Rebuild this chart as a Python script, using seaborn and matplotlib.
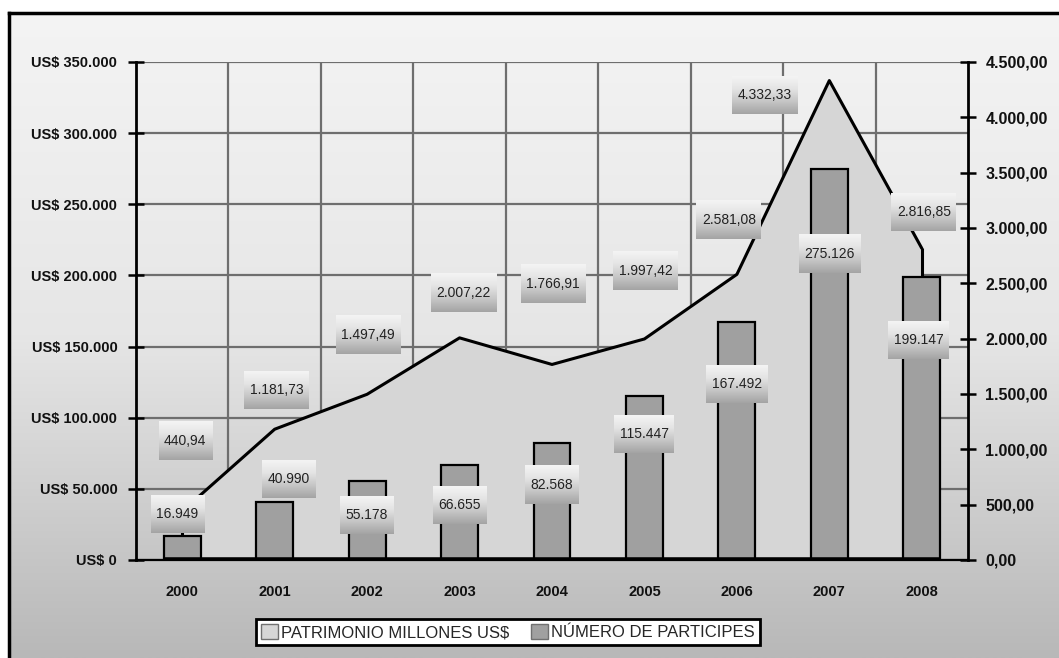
import numpy as np
import matplotlib
matplotlib.use('Agg')
import matplotlib.pyplot as plt
import seaborn as sns
from matplotlib.colors import LinearSegmentedColormap
from matplotlib.patches import Patch

years = ['2000', '2001', '2002', '2003', '2004', '2005', '2006', '2007', '2008']
patrimonio = [440.94, 1181.73, 1497.49, 2007.22, 1766.91, 1997.42, 2581.08, 4332.33, 2816.85]
participes = [16949, 40990, 55178, 66655, 82568, 115447, 167492, 275126, 199147]

left_max = 350000
right_max = 4500


def fmt_es(v, dec):
    s = f"{v:,.{dec}f}"
    return s.replace(',', '#').replace('.', ',').replace('#', '.')


sns.set_theme(style='white')
plt.rcParams['font.family'] = ['Liberation Sans', 'DejaVu Sans']

W, H = 1059, 658
fig = plt.figure(figsize=(W / 100, H / 100), dpi=100, facecolor='white')

# background of the whole chart, gradient + black border top/left
bg = fig.add_axes([9 / W, 0, 1 - 9 / W, 645 / H], zorder=-1)
bg_cmap = LinearSegmentedColormap.from_list('bg', ['#f4f4f4', '#e6e6e6', '#b8b8b8'])
bg.imshow(np.linspace(0, 1, 256).reshape(-1, 1), aspect='auto', cmap=bg_cmap,
          extent=[0, 1, 0, 1], interpolation='bilinear')
bg.set_xlim(0, 1)
bg.set_ylim(0, 1)
bg.set_xticks([])
bg.set_yticks([])
for s in ['right', 'bottom']:
    bg.spines[s].set_visible(False)
for s in ['top', 'left']:
    bg.spines[s].set_color('black')
    bg.spines[s].set_linewidth(2.5)

ax = fig.add_axes([136 / W, 98 / H, 832 / W, 498 / H])
ax.patch.set_visible(False)

n = len(years)
x = np.arange(n)
scale = left_max / right_max
pat_scaled = np.array(patrimonio) * scale

# area (patrimonio) drawn on the left scale
ax.fill_between(x, pat_scaled, 0, color='#d6d6d6', lw=0, zorder=1)
sns.lineplot(x=x, y=pat_scaled, color='black', lw=2.2, ax=ax, zorder=2)
ax.vlines([x[0], x[-1]], 0, [pat_scaled[0], pat_scaled[-1]], color='black', lw=2.2, zorder=2)

bar_w = 0.4
sns.barplot(x=years, y=participes, color='#a0a0a0', saturation=1, width=bar_w,
            edgecolor='black', linewidth=1.6, ax=ax, zorder=3)
ax.hlines(0, x[0] - bar_w / 2, x[-1] + bar_w / 2, color='black', lw=4, zorder=4)

ax.set_xlim(-0.5, n - 0.5)
ax.set_ylim(0, left_max)
ax.set_xlabel('')
ax.set_ylabel('')

# grid
ax.set_axisbelow(True)
ax.set_xticks(x, years)
ax.set_xticks(x[:-1] + 0.5, minor=True)
ax.set_yticks(np.arange(0, left_max + 1, 50000))
ax.set_yticklabels(['US$ ' + fmt_es(v, 0) for v in np.arange(0, left_max + 1, 50000)])
ax.grid(True, which='minor', axis='x', color='#6e6e6e', lw=1.6)
ax.grid(True, which='major', axis='y', color='#6e6e6e', lw=1.6)
ax.grid(False, which='major', axis='x')

for s in ['top', 'right']:
    ax.spines[s].set_visible(False)
ax.spines['left'].set_color('black')
ax.spines['left'].set_linewidth(2)
ax.spines['bottom'].set_color('black')
ax.spines['bottom'].set_linewidth(1.6)

ax.tick_params(axis='x', which='major', length=0, pad=18, labelsize=10.5, labelcolor='#111111')
ax.tick_params(axis='x', which='minor', direction='inout', length=11, width=1.8, color='black')
ax.tick_params(axis='y', direction='inout', length=11, width=1.8, color='black',
               pad=8, labelsize=10.5, labelcolor='#111111', left=True)
for t in ax.get_xticklabels() + ax.get_yticklabels():
    t.set_fontweight('bold')

ax2 = ax.twinx()
ax2.set_ylim(0, right_max)
rticks = np.arange(0, right_max + 1, 500)
ax2.set_yticks(rticks)
ax2.set_yticklabels([fmt_es(v, 2) for v in rticks])
for s in ['top', 'left', 'bottom']:
    ax2.spines[s].set_visible(False)
ax2.spines['right'].set_color('black')
ax2.spines['right'].set_linewidth(2)
ax2.tick_params(axis='y', direction='inout', length=11, width=1.8, color='black',
                pad=7, labelsize=11.5, labelcolor='#111111', right=True)
for t in ax2.get_yticklabels():
    t.set_fontweight('bold')
ax2.grid(False)

# data labels (offsets in pixels from the data point)
pat_off = [(3, 70), (2, 39), (1, 59), (4, 45), (1, 80), (1, 68), (-8, 54), (-65, -14), (2, 36)]
par_off = [(-5, 22), (14, 23), (0, -34), (0, -40), (0, -42), (0, -38), (0, -62), (0, -85), (-3, -63)]

texts = []
for i in range(n):
    t = ax.annotate(fmt_es(patrimonio[i], 2), (x[i], pat_scaled[i]), xytext=pat_off[i],
                    textcoords='offset pixels', ha='center', va='center',
                    fontsize=10, color='#222222', zorder=6)
    texts.append(t)
    t = ax.annotate(fmt_es(participes[i], 0), (x[i], participes[i]), xytext=par_off[i],
                    textcoords='offset pixels', ha='center', va='center',
                    fontsize=10, color='#222222', zorder=6)
    texts.append(t)

fig.canvas.draw()
renderer = fig.canvas.get_renderer()
box_cmap = LinearSegmentedColormap.from_list('box', ['#f4f4f4', '#e4e4e4', '#c6c6c6', '#a4a4a4'])
box_grad = np.linspace(0, 1, 64).reshape(-1, 1)
inv = ax.transData.inverted()
for t in texts:
    bb = t.get_window_extent(renderer)
    cx = (bb.x0 + bb.x1) / 2
    cy = (bb.y0 + bb.y1) / 2
    w = bb.width + 11
    h = 38
    (x0, y0) = inv.transform((cx - w / 2, cy - h / 2))
    (x1, y1) = inv.transform((cx + w / 2, cy + h / 2))
    ax.imshow(box_grad, extent=[x0, x1, y0, y1], aspect='auto', cmap=box_cmap,
              interpolation='bilinear', zorder=5)

ax.set_xlim(-0.5, n - 0.5)
ax.set_ylim(0, left_max)
ax.set_aspect('auto')

handles = [Patch(facecolor='#d6d6d6', edgecolor='#707070', lw=1),
           Patch(facecolor='#a0a0a0', edgecolor='#707070', lw=1)]
leg = fig.legend(handles, ['PATRIMONIO MILLONES US$', 'NÚMERO DE PARTICIPES'],
                 loc='center', bbox_to_anchor=(508 / W, 26 / H), ncol=2,
                 frameon=True, fancybox=False, edgecolor='black', facecolor='white',
                 framealpha=1, fontsize=12, handlelength=1.0, handleheight=1.0,
                 handletextpad=0.2, columnspacing=1.3, borderpad=0.3)
leg.get_frame().set_linewidth(2)

fig.savefig('out.png', dpi=100, facecolor='white')
